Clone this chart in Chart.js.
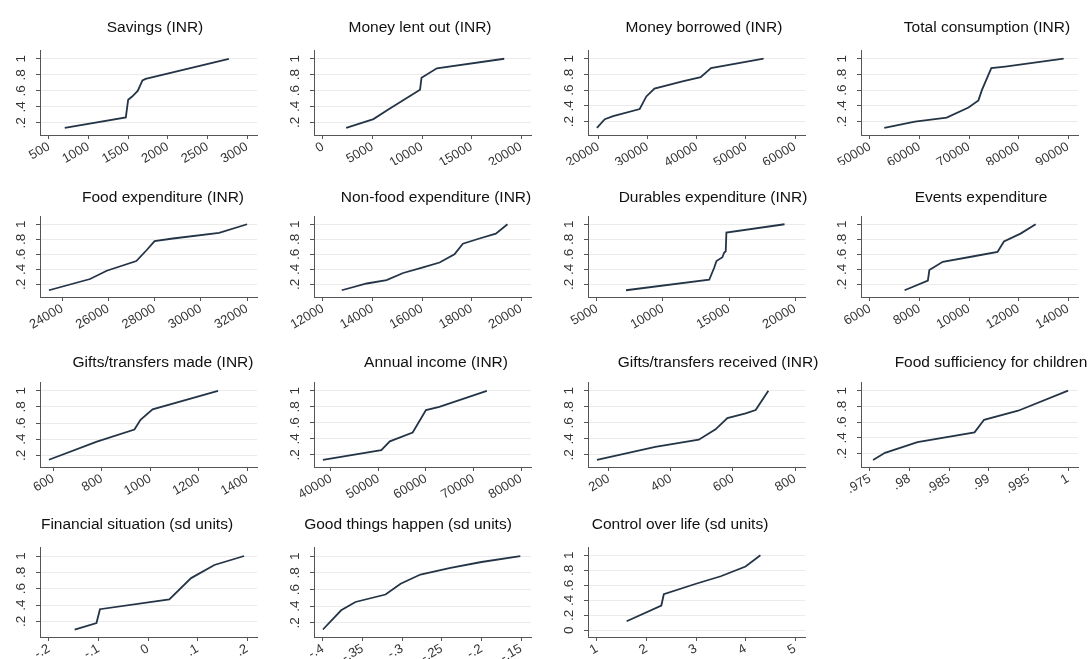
<!DOCTYPE html>
<html>
<head>
<meta charset="utf-8">
<script src="https://cdn.jsdelivr.net/npm/chart.js@4.4.1/dist/chart.umd.min.js"></script>
<style>
  body { margin: 0; background: #fff; overflow: hidden; }
  #wrap { position: relative; width: 1092px; height: 659px; }
  canvas { position: absolute; }
</style>
</head>
<body>
<div id="wrap"></div>
<script>
// values (x = outcome level, y = cumulative share)
var savingsX = [700, 1470, 1500, 1550, 1620, 1680, 1720, 2770];
var savingsY = [0.14, 0.27, 0.49, 0.53, 0.60, 0.73, 0.75, 1.00];
var savingsTicks = [500, 1000, 1500, 2000, 2500, 3000];

var lentX = [2350, 5100, 6600, 9800, 9950, 11500, 18300];
var lentY = [0.13, 0.24, 0.36, 0.61, 0.76, 0.88, 1.00];
var lentTicks = [0, 5000, 10000, 15000, 20000];

var borrowedX = [19700, 21300, 23000, 28400, 29750, 31400, 37100, 40800, 42900, 53600];
var borrowedY = [0.12, 0.23, 0.27, 0.36, 0.52, 0.62, 0.71, 0.765, 0.88, 1.00];
var borrowedTicks = [20000, 30000, 40000, 50000, 60000];

var consX = [52900, 59100, 65500, 69900, 71900, 72600, 74500, 77300, 89100];
var consY = [0.12, 0.20, 0.25, 0.38, 0.47, 0.60, 0.88, 0.90, 1.00];
var consTicks = [50000, 60000, 70000, 80000, 90000];

var foodX = [23430, 25210, 25930, 27210, 27640, 28000, 28790, 30790, 32000];
var foodY = [0.12, 0.27, 0.38, 0.51, 0.65, 0.775, 0.81, 0.885, 1.00];
var foodTicks = [24000, 26000, 28000, 30000, 32000];

var nonfoodX = [12760, 13770, 14570, 15240, 16040, 16710, 17310, 17650, 18320, 18980, 19450];
var nonfoodY = [0.12, 0.21, 0.255, 0.35, 0.425, 0.49, 0.60, 0.74, 0.81, 0.875, 1.00];
var nonfoodTicks = [12000, 14000, 16000, 18000, 20000];

var durablesX = [7200, 13500, 13875, 14050, 14500, 14625, 14750, 14800, 19200];
var durablesY = [0.12, 0.26, 0.42, 0.51, 0.56, 0.62, 0.64, 0.89, 1.00];
var durablesTicks = [5000, 10000, 15000, 20000];

var eventsX = [7400, 8340, 8400, 8940, 10140, 11150, 11410, 12080, 12690];
var eventsY = [0.12, 0.25, 0.39, 0.50, 0.57, 0.63, 0.77, 0.875, 1.00];
var eventsTicks = [6000, 8000, 10000, 12000, 14000];

var giftsMadeX = [582, 780, 935, 960, 1010, 1280];
var giftsMadeY = [0.145, 0.37, 0.52, 0.64, 0.77, 1.00];
var giftsMadeTicks = [600, 800, 1000, 1200, 1400];

var incomeX = [38330, 50600, 52400, 53750, 57200, 60000, 62800, 72800];
var incomeY = [0.14, 0.26, 0.37, 0.40, 0.48, 0.76, 0.80, 1.00];
var incomeTicks = [40000, 50000, 60000, 70000, 80000];

var giftsRecX = [162, 350, 490, 544, 582, 641, 673, 714];
var giftsRecY = [0.14, 0.30, 0.39, 0.52, 0.66, 0.72, 0.76, 1.00];
var giftsRecTicks = [200, 400, 600, 800];

var sufficiencyX = [0.9754, 0.9769, 0.9810, 0.9882, 0.9894, 0.9937, 1.0];
var sufficiencyY = [0.12, 0.21, 0.345, 0.47, 0.63, 0.745, 1.00];
var sufficiencyTicks = [0.975, 0.98, 0.985, 0.99, 0.995, 1];

var financialX = [-0.148, -0.104, -0.097, 0.043, 0.087, 0.134, 0.194];
var financialY = [0.10, 0.18, 0.35, 0.47, 0.73, 0.89, 1.00];
var financialTicks = [-0.2, -0.1, 0, 0.1, 0.2];

var goodX = [-0.4, -0.377, -0.359, -0.321, -0.302, -0.277, -0.239, -0.2, -0.151];
var goodY = [0.12, 0.35, 0.45, 0.54, 0.67, 0.78, 0.86, 0.93, 1.00];
var goodTicks = [-0.4, -0.35, -0.3, -0.25, -0.2, -0.15];

var controlX = [1.6, 2.3, 2.35, 3.0, 3.5, 4.0, 4.3];
var controlY = [0.12, 0.33, 0.48, 0.62, 0.72, 0.85, 1.00];
var controlTicks = [1, 2, 3, 4, 5];

var yTicks = [0.2, 0.4, 0.6, 0.8, 1];
var yTicksZero = [0, 0.2, 0.4, 0.6, 0.8, 1];

var panels = [
  { title: 'Savings (INR)', x: savingsX, y: savingsY, xt: savingsTicks },
  { title: 'Money lent out (INR)', x: lentX, y: lentY, xt: lentTicks },
  { title: 'Money borrowed (INR)', x: borrowedX, y: borrowedY, xt: borrowedTicks },
  { title: 'Total consumption (INR)', x: consX, y: consY, xt: consTicks },
  { title: 'Food expenditure (INR)', x: foodX, y: foodY, xt: foodTicks },
  { title: 'Non-food expenditure (INR)', x: nonfoodX, y: nonfoodY, xt: nonfoodTicks },
  { title: 'Durables expenditure (INR)', x: durablesX, y: durablesY, xt: durablesTicks },
  { title: 'Events expenditure', x: eventsX, y: eventsY, xt: eventsTicks },
  { title: 'Gifts/transfers made (INR)', x: giftsMadeX, y: giftsMadeY, xt: giftsMadeTicks },
  { title: 'Annual income (INR)', x: incomeX, y: incomeY, xt: incomeTicks },
  { title: 'Gifts/transfers received (INR)', x: giftsRecX, y: giftsRecY, xt: giftsRecTicks },
  { title: 'Food sufficiency for children', x: sufficiencyX, y: sufficiencyY, xt: sufficiencyTicks },
  { title: 'Financial situation (sd units)', x: financialX, y: financialY, xt: financialTicks },
  { title: 'Good things happen (sd units)', x: goodX, y: goodY, xt: goodTicks },
  { title: 'Control over life (sd units)', x: controlX, y: controlY, xt: controlTicks, yt: yTicksZero }
];

// page layout
var colLeft = [40, 314, 588, 861];
var plotW = 217;
var rowTitle = [28, 198, 363, 525];
var rowTop = [50, 216, 382, 547];
var rowBottom = [135, 297, 467, 637];
var titleX = [[155, 420, 704, 987], [163, 436, 713, 981], [163, 436, 718, 991], [137, 408, 680]];
var FONT = '"Liberation Sans", Arial, Helvetica, sans-serif';

function fmt(v) {
  var s = String(+(+v).toFixed(4));
  return s.replace(/^(-?)0\./, '$1.');
}

var panelText = {
  id: 'panelText',
  afterDraw: function (chart, args, opts) {
    var ctx = chart.ctx, s = chart.scales.y;
    ctx.save();
    ctx.font = '13.5px ' + FONT;
    ctx.fillStyle = '#333';
    ctx.textAlign = 'center';
    ctx.textBaseline = 'middle';
    s.ticks.forEach(function (t) {
      var y = s.getPixelForValue(t.value);
      ctx.save();
      ctx.translate(s.right - 19, y);
      ctx.rotate(-Math.PI / 2);
      ctx.fillText(fmt(t.value), 0, 0);
      ctx.restore();
    });
    ctx.font = '15.5px ' + FONT;
    ctx.fillStyle = '#111';
    ctx.fillText(opts.text, opts.tx, opts.ty);
    ctx.restore();
  }
};

var wrap = document.getElementById('wrap');

panels.forEach(function (p, i) {
  var r = Math.floor(i / 4), c = i % 4;
  var left = colLeft[c] - 40, top = rowTitle[r] - 28;
  var cv = document.createElement('canvas');
  cv.width = 273; cv.height = 165;
  cv.style.left = left + 'px';
  cv.style.top = top + 'px';
  wrap.appendChild(cv);

  var xt = p.xt, yt = p.yt || yTicks;
  var lo = Math.min(Math.min.apply(null, p.x), xt[0]);
  var hi = Math.max(Math.max.apply(null, p.x), xt[xt.length - 1]);
  var span = hi - lo;
  var ylo = Math.min(Math.min.apply(null, p.y), yt[0]) - 0.09;

  new Chart(cv.getContext('2d'), {
    type: 'line',
    data: {
      datasets: [{
        data: p.x.map(function (v, k) { return { x: v, y: p.y[k] }; }),
        borderColor: '#243447',
        borderWidth: 1.8,
        pointRadius: 0,
        tension: 0,
        fill: false
      }]
    },
    options: {
      responsive: false,
      animation: false,
      layout: { padding: { top: rowTop[r] - top, right: 273 - 40 - plotW, left: 0, bottom: 0 } },
      plugins: {
        legend: { display: false },
        tooltip: { enabled: false },
        title: { display: false },
        panelText: { text: p.title, tx: titleX[r][c] - left, ty: rowTitle[r] - top }
      },
      scales: {
        x: {
          type: 'linear',
          min: lo - span * 0.045,
          max: hi + span * 0.05,
          afterBuildTicks: function (s) { s.ticks = xt.map(function (v) { return { value: v }; }); },
          afterFit: function (s) { s.height = 165 - (rowBottom[r] - top); },
          grid: { drawOnChartArea: false, drawTicks: true, tickLength: 4, tickColor: '#555' },
          border: { color: '#555', width: 1 },
          ticks: {
            autoSkip: false, minRotation: 30, maxRotation: 30, padding: 0,
            color: '#333', font: { size: 13, family: FONT },
            callback: function (v) { return fmt(v); }
          }
        },
        y: {
          min: ylo,
          max: 1.11,
          afterBuildTicks: function (s) { s.ticks = yt.map(function (v) { return { value: v }; }); },
          afterFit: function (s) { s.width = 40; },
          grid: { color: '#ebebeb', drawTicks: true, tickLength: 4, tickColor: '#555' },
          border: { color: '#555', width: 1 },
          ticks: { display: false }
        }
      }
    },
    plugins: [panelText]
  });
});
</script>
</body>
</html>
